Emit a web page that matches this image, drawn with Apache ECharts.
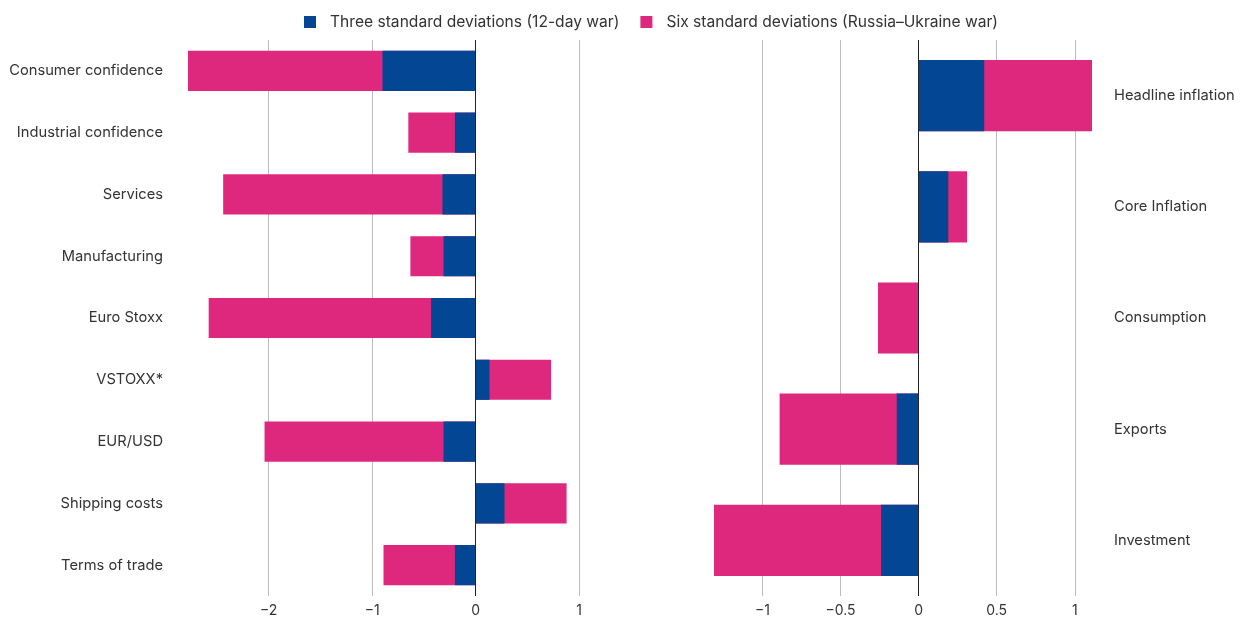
<!DOCTYPE html>
<html>
<head>
<meta charset="utf-8">
<script src="https://cdn.jsdelivr.net/npm/echarts@6/dist/echarts.min.js"></script>
<style>
  html, body { margin: 0; padding: 0; background: #fff; }
  #chart { width: 1243px; height: 622px; }
</style>
</head>
<body>
<div id="chart"></div>
<script>
// left panel: financial / survey indicators
var leftCats = ['Consumer confidence', 'Industrial confidence', 'Services', 'Manufacturing',
    'Euro Stoxx', 'VSTOXX*', 'EUR/USD', 'Shipping costs', 'Terms of trade'];
var leftThree = [-0.90, -0.20, -0.32, -0.31, -0.43, 0.135, -0.31, 0.28, -0.20];
var leftSix = [-2.78, -0.65, -2.44, -0.63, -2.58, 0.73, -2.04, 0.88, -0.89];

// right panel: macro outcomes
var rightCats = ['Headline inflation', 'Core Inflation', 'Consumption', 'Exports', 'Investment'];
var rightThree = [0.42, 0.19, 0, -0.14, -0.24];
var rightSix = [1.11, 0.31, -0.26, -0.89, -1.31];

var nameThree = 'Three standard deviations (12-day war)';
var nameSix = 'Six standard deviations (Russia\u2013Ukraine war)';

var blue = '#034694';
var pink = '#de287e';
var font = 'Inter, "Noto Sans", sans-serif';

var chart = echarts.init(document.getElementById('chart'));

function fmt(v) {
    return String(v).replace('-', '\u2212');
}

function valueAxis(idx, min, max, step) {
    return {
        type: 'value',
        gridIndex: idx,
        min: min,
        max: max,
        minInterval: step,
        maxInterval: step,
        axisLine: { show: false },
        axisTick: { show: false },
        axisLabel: {
            color: '#333', fontSize: 14, fontFamily: font, margin: 8,
            showMinLabel: false, showMaxLabel: idx === 0,
            formatter: fmt
        },
        splitLine: {
            show: true, showMinLine: false, showMaxLine: idx === 0,
            lineStyle: { color: '#bdbdbd', width: 1 }
        }
    };
}

function catAxis(idx, cats, pos) {
    return {
        type: 'category',
        gridIndex: idx,
        data: cats,
        inverse: true,
        position: pos,
        axisLine: { show: false },
        axisTick: { show: false },
        axisLabel: {
            color: '#333', fontSize: 14.7, fontFamily: font,
            margin: pos === 'left' ? 25 : 22,
            align: pos === 'left' ? 'right' : 'left'
        }
    };
}

var zeroLine = {
    silent: true,
    symbol: 'none',
    label: { show: false },
    lineStyle: { color: '#222', width: 1, type: 'solid' },
    data: [{ xAxis: 0 }]
};

var option = {
    backgroundColor: '#fff',
    animation: false,
    legend: {
        top: 9,
        left: 299,
        data: [nameThree, nameSix],
        itemWidth: 12,
        itemHeight: 12,
        itemGap: 21,
        icon: 'rect',
        textStyle: { color: '#333', fontSize: 15.6, fontFamily: font, padding: [0, 0, 0, 9] }
    },
    grid: [
        { left: 188, right: 1243 - 579, top: 40, bottom: 26 },
        { left: 714, right: 1243 - 1092, top: 40, bottom: 26 }
    ],
    xAxis: [
        valueAxis(0, -2.78, 1, 1),
        valueAxis(1, -1.31, 1.11, 0.5)
    ],
    yAxis: [
        catAxis(0, leftCats, 'left'),
        catAxis(1, rightCats, 'right')
    ],
    series: [
        {
            name: nameSix, type: 'bar', xAxisIndex: 0, yAxisIndex: 0,
            data: leftSix, barWidth: '65%', barGap: '-100%',
            itemStyle: { color: pink }
        },
        {
            name: nameThree, type: 'bar', xAxisIndex: 0, yAxisIndex: 0,
            data: leftThree, barWidth: '65%', barGap: '-100%',
            itemStyle: { color: blue },
            markLine: zeroLine
        },
        {
            name: nameSix, type: 'bar', xAxisIndex: 1, yAxisIndex: 1,
            data: rightSix, barWidth: '64%', barGap: '-100%',
            itemStyle: { color: pink }
        },
        {
            name: nameThree, type: 'bar', xAxisIndex: 1, yAxisIndex: 1,
            data: rightThree, barWidth: '64%', barGap: '-100%',
            itemStyle: { color: blue },
            markLine: zeroLine
        }
    ]
};

chart.setOption(option);
</script>
</body>
</html>
